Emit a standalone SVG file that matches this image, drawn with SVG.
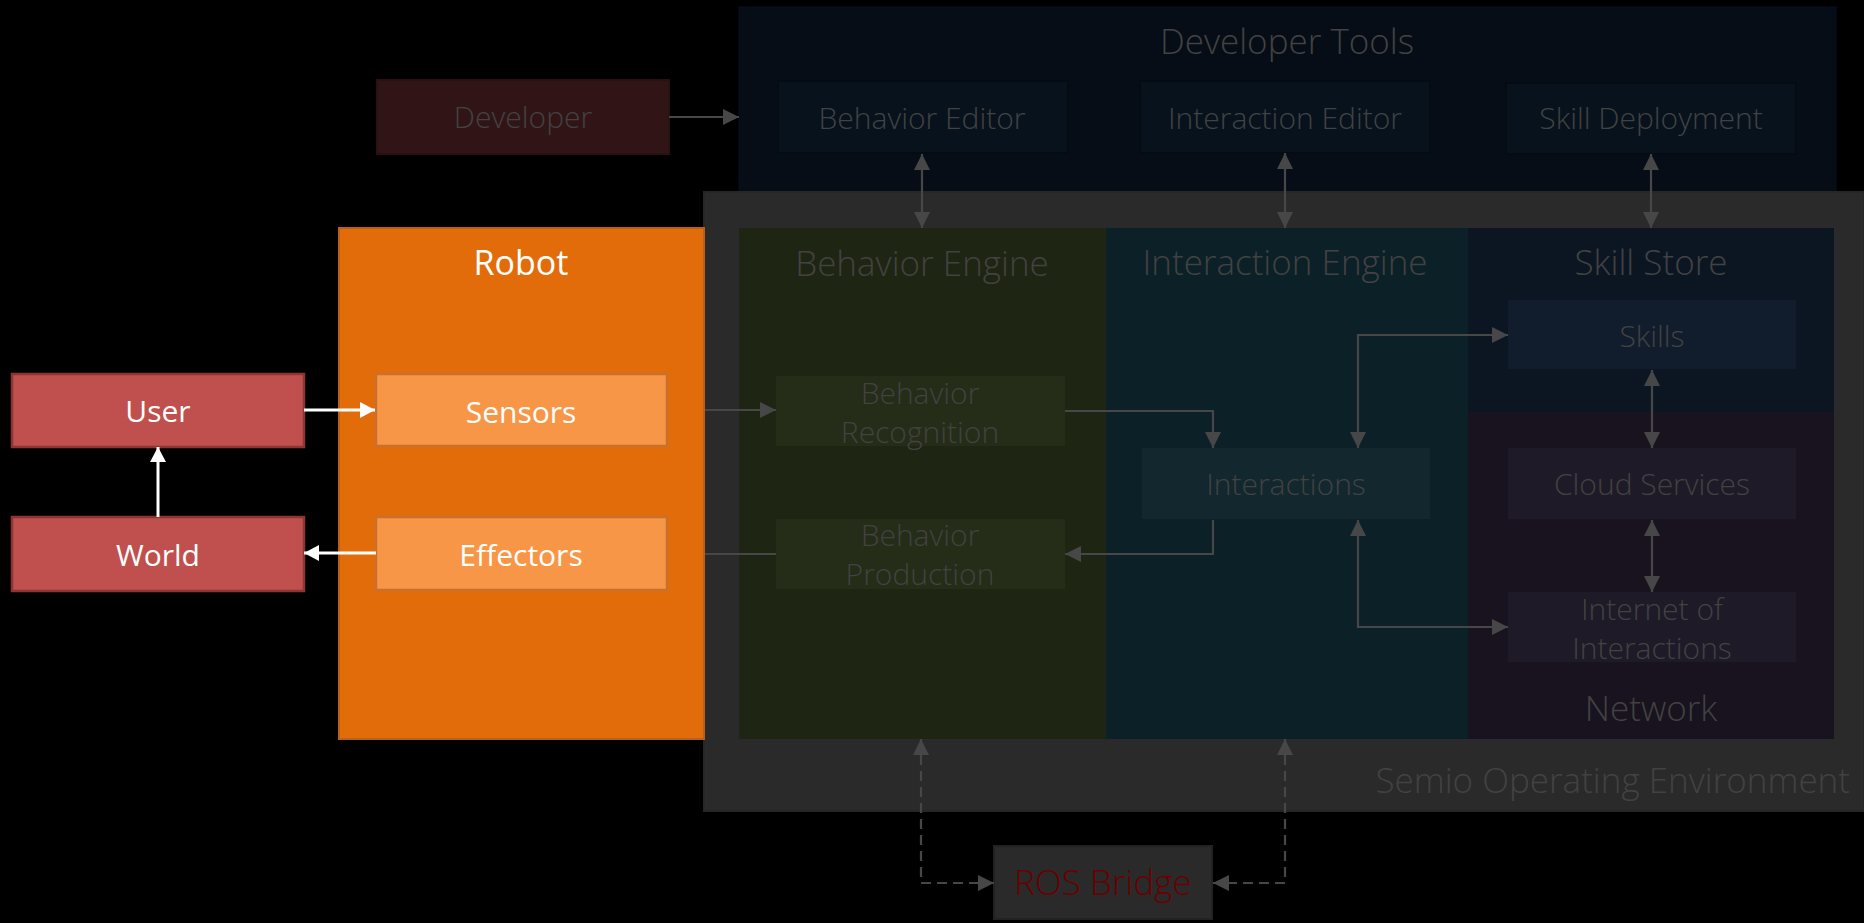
<svg xmlns="http://www.w3.org/2000/svg" width="1864" height="923" viewBox="0 0 1864 923">
<style>
text{font-family:"Open Sans","Noto Sans","Liberation Sans",sans-serif;text-anchor:middle;font-weight:300}
.t{font-size:35px;fill:#424242}
.l{font-size:30px;fill:#424242}
.w{fill:#ffffff;font-weight:400}
.tw{font-size:34px}
.g{fill:none;stroke:#474747;stroke-width:2.2}
.wa{fill:none;stroke:#ffffff;stroke-width:3}
.d{stroke-dasharray:10 6}
</style>
<defs>
<marker id="ag" viewBox="0 0 16 16" refX="16" refY="8" markerWidth="16" markerHeight="16" markerUnits="userSpaceOnUse" orient="auto-start-reverse"><path d="M0,0 L16,8 L0,16 z" fill="#474747"/></marker>
<marker id="aw" viewBox="0 0 15 16" refX="15" refY="8" markerWidth="15" markerHeight="16" markerUnits="userSpaceOnUse" orient="auto-start-reverse"><path d="M0,0 L15,8 L0,16 z" fill="#ffffff"/></marker>
</defs>
<rect width="1864" height="923" fill="#000"/>

<g id="developer-tools">
<rect x="739" y="7" width="1097" height="186" fill="#060d16" stroke="#08111c" stroke-width="1"/>
<text class="t" x="1287" y="54">Developer Tools</text>
</g>
<g id="developer">
<rect x="377" y="80" width="292" height="74" fill="#311516" stroke="#2a1011" stroke-width="2"/>
<text class="l" x="523" y="128">Developer</text>
</g>
<g id="behavior-editor">
<rect x="778" y="81" width="290" height="72" fill="#07121d" stroke="#050b12" stroke-width="2"/>
<text class="l" x="922" y="129">Behavior Editor</text>
</g>
<g id="interaction-editor">
<rect x="1140" y="81" width="290" height="72" fill="#07121d" stroke="#050b12" stroke-width="2"/>
<text class="l" x="1285" y="129">Interaction Editor</text>
</g>
<g id="skill-deployment">
<rect x="1506" y="83" width="290" height="71" fill="#07121d" stroke="#050b12" stroke-width="2"/>
<text class="l" x="1651" y="129">Skill Deployment</text>
</g>

<g id="semio-env">
<rect x="704" y="192" width="1160" height="619" fill="#2a2a2a" stroke="#262626" stroke-width="2"/>
<text class="t" x="1850" y="793" style="text-anchor:end">Semio Operating Environment</text>
</g>

<g id="robot">
<rect x="339" y="228" width="365" height="511" fill="#e36c0a" stroke="#b8611c" stroke-width="2"/>
<text class="w tw" x="521" y="275">Robot</text>
</g>
<g id="sensors">
<rect x="376" y="374" width="291" height="72" fill="#f79646" stroke="#c8702e" stroke-width="2.5"/>
<text class="l w" x="521" y="423">Sensors</text>
</g>
<g id="effectors">
<rect x="376" y="517" width="291" height="73" fill="#f79646" stroke="#c8702e" stroke-width="2.5"/>
<text class="l w" x="521" y="566">Effectors</text>
</g>
<g id="user">
<rect x="12" y="374" width="292" height="73" fill="#c0504d" stroke="#8c3533" stroke-width="2.5"/>
<text class="l w" x="158" y="422">User</text>
</g>
<g id="world">
<rect x="12" y="517" width="292" height="74" fill="#c0504d" stroke="#8c3533" stroke-width="2.5"/>
<text class="l w" x="158" y="566">World</text>
</g>

<g id="behavior-engine">
<rect x="739" y="228" width="367" height="511" fill="#1f2513"/>
<text class="t" x="922" y="276">Behavior Engine</text>
</g>
<g id="interaction-engine">
<rect x="1106" y="228" width="362" height="511" fill="#0c2027"/>
<text class="t" x="1285" y="275">Interaction Engine</text>
</g>
<g id="skill-store">
<rect x="1468" y="228" width="366" height="184" fill="#0c1623"/>
<text class="t" x="1651" y="275">Skill Store</text>
</g>
<g id="network">
<rect x="1468" y="412" width="366" height="327" fill="#18131e"/>
<text class="t" x="1651" y="721">Network</text>
</g>

<g id="behavior-recognition">
<rect x="776" y="376" width="289" height="70" fill="#252d18"/>
<text class="l" x="920" y="404">Behavior</text>
<text class="l" x="920" y="443">Recognition</text>
</g>
<g id="behavior-production">
<rect x="776" y="519" width="289" height="70" fill="#252d18"/>
<text class="l" x="920" y="546">Behavior</text>
<text class="l" x="920" y="585">Production</text>
</g>
<g id="interactions">
<rect x="1142" y="448" width="288" height="71" fill="#12282e"/>
<text class="l" x="1286" y="495">Interactions</text>
</g>
<g id="skills">
<rect x="1508" y="300" width="288" height="69" fill="#111d2c"/>
<text class="l" x="1652" y="347">Skills</text>
</g>
<g id="cloud-services">
<rect x="1508" y="448" width="288" height="71" fill="#1e1a28"/>
<text class="l" x="1652" y="495">Cloud Services</text>
</g>
<g id="internet-of-interactions">
<rect x="1508" y="592" width="288" height="70" fill="#1e1a28"/>
<text class="l" x="1652" y="620">Internet of</text>
<text class="l" x="1652" y="659">Interactions</text>
</g>
<g id="ros-bridge">
<rect x="994" y="846" width="218" height="73" fill="#2a2a2a" stroke="#222" stroke-width="2"/>
<text class="t" x="1103" y="895" style="fill:#6b0000">ROS Bridge</text>
</g>

<g id="connectors">
<path class="g" d="M669,117 H739" marker-end="url(#ag)"/>
<path class="g" d="M922,154 V228" marker-start="url(#ag)" marker-end="url(#ag)"/>
<path class="g" d="M1285,153 V228" marker-start="url(#ag)" marker-end="url(#ag)"/>
<path class="g" d="M1651,154 V228" marker-start="url(#ag)" marker-end="url(#ag)"/>
<path class="wa" d="M304,410 H375" marker-end="url(#aw)"/>
<path class="wa" d="M158,517 V447" marker-end="url(#aw)"/>
<path class="wa" d="M376,553 H304" marker-end="url(#aw)"/>
<path class="g" d="M705,410 H776" marker-end="url(#ag)"/>
<path class="g" d="M705,554 H776"/>
<path class="g" d="M1065,411 H1213 V448" marker-end="url(#ag)"/>
<path class="g" d="M1213,520 V554 H1065" marker-end="url(#ag)"/>
<path class="g" d="M1358,448 V335 H1508" marker-start="url(#ag)" marker-end="url(#ag)"/>
<path class="g" d="M1358,520 V627 H1508" marker-start="url(#ag)" marker-end="url(#ag)"/>
<path class="g" d="M1652,370 V448" marker-start="url(#ag)" marker-end="url(#ag)"/>
<path class="g" d="M1652,520 V592" marker-start="url(#ag)" marker-end="url(#ag)"/>
<path class="g d" d="M921,739 V883 H994" marker-start="url(#ag)" marker-end="url(#ag)"/>
<path class="g d" d="M1285,739 V883 H1213" marker-start="url(#ag)" marker-end="url(#ag)"/>
</g>
</svg>
